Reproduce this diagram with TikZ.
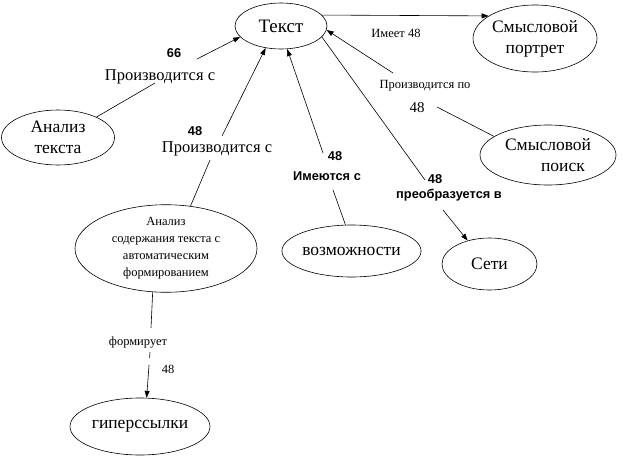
\documentclass[tikz,border=0pt]{standalone}
\usepackage{fontspec}
\setmainfont{Liberation Serif}
\newfontfamily\lsans{Liberation Sans}
\usetikzlibrary{shapes.geometric,arrows.meta}
\tikzset{
  ell/.style={ellipse, draw, line width=0.6pt, inner sep=0pt, align=center,
    font=\fontsize{17.5}{21}\selectfont},
  lab/.style={inner sep=0pt, anchor=base, font=\fontsize{16.5}{18}\selectfont},
  blab/.style={inner sep=0pt, anchor=base, font=\lsans\bfseries\fontsize{12.8}{14}\selectfont},
  slab/.style={inner sep=0pt, anchor=base, font=\fontsize{12.5}{14}\selectfont},
  con/.style={line width=0.6pt},
  arr/.style={line width=0.6pt, -{Triangle[length=7pt,width=5pt]}},
}
\begin{document}
\begin{tikzpicture}[x=1pt,y=-1pt]
\useasboundingbox (0,0) rectangle (623,474);
% nodes
\node[ell, minimum width=92pt, minimum height=46pt, font=\fontsize{19}{21}\selectfont] (tekst) at (281,26) {Текст};
\node[ell, minimum width=124pt, minimum height=67pt] (portret) at (535,38.5) {Смысловой\\портрет};
\node[ell, minimum width=113pt, minimum height=55pt] (analiz) at (58,137.5) {Анализ\\текста};
\node[ell, minimum width=136pt, minimum height=60pt] (poisk) at (548,155) {Смысловой\\\hspace*{30pt}поиск};
\node[ell, minimum width=182pt, minimum height=77pt, font=\fontsize{12.5}{17}\selectfont] (soderzh) at (166,248.5)
  {Анализ\\содержания текста с\\автоматическим\\формированием};
\node[ell, minimum width=117pt, minimum height=52pt] (vozm) at (351.5,251) {возможности};
\node[ell, minimum width=95pt, minimum height=52pt] (seti) at (489.5,264) {Сети};
\node[ell, minimum width=140pt, minimum height=57pt] (giper) at (140,426.5) {гиперссылки};
% free ends of broken connectors
\coordinate (c1a) at (155,83);  \coordinate (c1b) at (197,59);
\coordinate (c2a) at (210,160); \coordinate (c2b) at (222,136);
\coordinate (c3a) at (333,190); \coordinate (c3b) at (323,153);
\coordinate (c5a) at (437,107); \coordinate (c5b) at (393,73);
\coordinate (c6a) at (425,180); \coordinate (c6b) at (443,210);
\coordinate (c7a) at (151,328); \coordinate (c7b) at (150,352);
% labels
\node[blab] (l1n) at (174,57) {66};
\node[lab]  (l1)  at (160,80) {Производится с};
\node[blab] (l2n) at (195,135) {48};
\node[lab]  (l2)  at (217,152) {Производится с};
\node[blab] (l3n) at (335,160) {48};
\node[blab] (l3)  at (327,180) {Имеются с};
\node[slab] (l4)  at (396,37) {Имеет 48};
\node[slab] (l5)  at (425,88) {Производится по};
\node[lab, font=\fontsize{15}{17}\selectfont] (l5n) at (417,112) {48};
\node[blab] (l6n) at (435,183) {48};
\node[blab] (l6)  at (449,198) {преобразуется в};
\node[slab] (l7)  at (138,345) {формирует};
\node[slab] (l7n) at (168,373) {48};
% connectors
\draw[con] (analiz.28) -- (c1a);
\draw[arr] (c1b) -- (tekst.195);
\draw[con] (soderzh.60) -- (c2a);
\draw[arr] (c2b) -- (tekst.235);
\draw[con] (vozm.103) -- (c3a);
\draw[arr] (c3b) -- (tekst.285);
\draw[arr] (tekst.15) -- (portret.154);
\draw[con] (poisk.161) -- (c5a);
\draw[arr] (c5b) -- (tekst.355);
\draw[con] (tekst.345) -- (c6a);
\draw[arr] (c6b) -- (seti.133);
\draw[con] (soderzh.253) -- (c7a);
\draw[arr, dash pattern=on 6pt off 7pt on 80pt] (c7b) -- (giper.77);
\end{tikzpicture}
\end{document}
